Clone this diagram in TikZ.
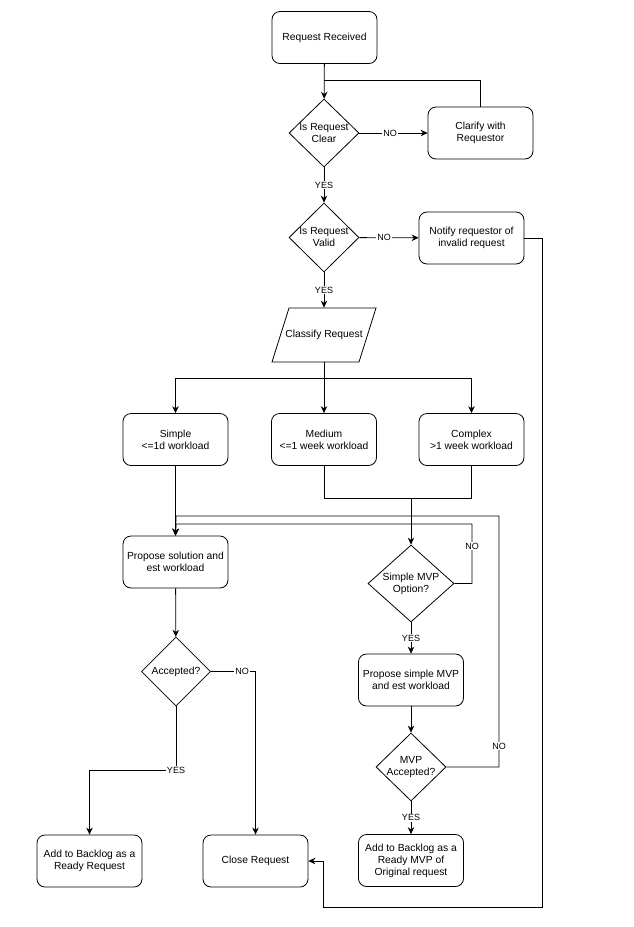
\documentclass[tikz,border=0pt]{standalone}
\usepackage{fontspec}
\setmainfont{Liberation Sans}
\usetikzlibrary{shapes.geometric,arrows.meta}
\begin{document}
\begin{tikzpicture}[x=1pt,y=-1pt,
  line width=0.8pt,
  box/.style={draw, rounded corners=8pt, minimum width=105, minimum height=52, align=center, font=\fontsize{10.3}{12}\selectfont, inner sep=2pt},
  dia/.style={draw, diamond, inner sep=0pt},
  dtxt/.style={align=center, font=\fontsize{10.3}{12}\selectfont, inner sep=0pt},
  lab/.style={fill=white, font=\fontsize{9}{10}\selectfont, inner sep=1pt},
  arr/.style={-{Stealth[length=7pt,width=6.5pt]}},
]
\path[use as bounding box, fill=white] (0,0) rectangle (634,927);

% nodes
\node[box] (rr) at (324.5,37.5) {Request Received};
\node[dia, minimum width=70, minimum height=68, label={[dtxt]center:Is Request\\Clear}] (d1) at (324,133) {};
\node[box] (cl) at (480.5,133) {Clarify with\\Requestor};
\node[dia, minimum width=70, minimum height=69, label={[dtxt]center:Is Request\\Valid}] (d2) at (324,237.5) {};
\node[box] (nt) at (471.5,238) {Notify requestor of\\invalid request};
\node[minimum width=87, minimum height=54, inner sep=0pt, font=\fontsize{10.3}{12}\selectfont] (cr) at (324,335) {Classify Request};
\draw (272,362) -- (289,308) -- (376,308) -- (359,362) -- cycle;
\node[box] (si) at (175.5,439.5) {Simple\\<=1d workload};
\node[box] (me) at (324,439.5) {Medium\\<=1 week workload};
\node[box] (co) at (471.5,439.5) {Complex\\>1 week workload};
\node[box] (ps) at (175.5,562) {Propose solution and\\est workload};
\node[dia, minimum width=69, minimum height=69, label={[dtxt]center:Accepted?}] (ac) at (176,671.5) {};
\node[dia, minimum width=86, minimum height=77, label={[dtxt]center:Simple MVP\\Option?}] (sm) at (411,583.5) {};
\node[box] (pm) at (411,680) {Propose simple MVP\\and est workload};
\node[dia, minimum width=70, minimum height=68, label={[dtxt]center:MVP\\Accepted?}] (ma) at (411,767) {};
\node[box] (ab) at (89.5,861) {Add to Backlog as a\\Ready Request};
\node[box] (cq) at (255.5,861) {Close Request};
\node[box] (am) at (411,860.5) {Add to Backlog as a\\Ready MVP of\\Original request};

\coordinate (j1) at (324,80);
\coordinate (sp) at (324,378);
\coordinate (mj) at (411,498);

% connectors
\draw[arr] (rr) -- (d1);
\draw (cl.north) |- (j1);
\draw[arr] (d1) -- node[lab,pos=0.45]{NO} (cl);
\draw[arr] (d1) -- node[lab]{YES} (d2);
\draw[arr] (d2) -- node[lab,pos=0.42]{NO} (nt);
\draw[arr] (d2) -- node[lab]{YES} (cr);
\draw (cr.south) -- (sp);
\draw[arr] (sp) -| (si.north);
\draw[arr] (sp) -- (me.north);
\draw[arr] (sp) -| (co.north);
\draw (me.south) |- (mj);
\draw (co.south) |- (mj);
\draw[arr] (mj) -- (sm.north);
\draw[arr] (si) -- (ps);
\draw[arr] (sm.east) -- (472,583.5) -- node[lab,pos=0.63]{NO} (472,524) -- (176,524) -- (ps.north);
\draw[arr] (sm) -- node[lab]{YES} (pm);
\draw[arr] (pm) -- (ma);
\draw[arr] (ma.east) -- (499,767) -- node[lab,pos=0.084]{NO} (499,516) -- (176,516) -- (ps.north);
\draw[arr] (ma) -- node[lab]{YES} (am);
\draw[arr] (ps) -- (ac);
\draw[arr] (ac.east) -- node[lab,pos=0.7]{NO} (255.5,671.5) -- (cq.north);
\draw[arr] (ac.south) -- (176,770) node[lab]{YES} -- (89.5,770) -- (ab.north);
\draw[arr] (nt.east) -- (542,238) -- (542,907) -- (323,907) -- (323,861) -- (cq.east);
\end{tikzpicture}
\end{document}
